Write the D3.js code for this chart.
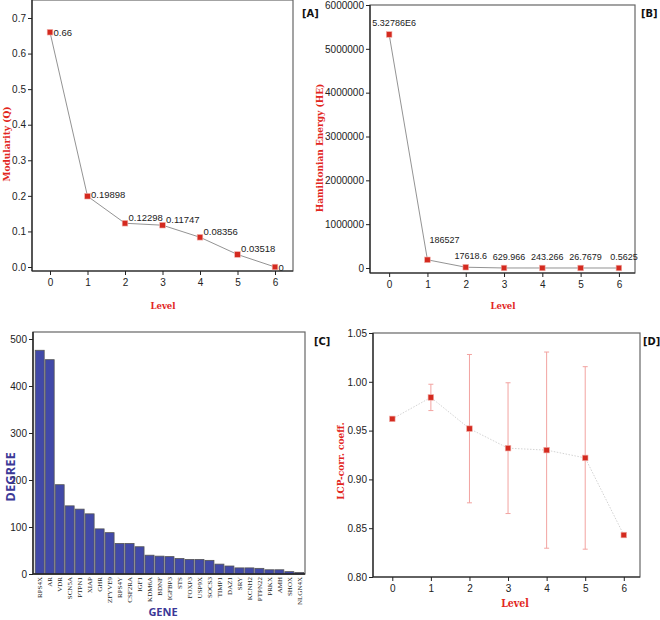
<!DOCTYPE html>
<html><head><meta charset="utf-8">
<script src="https://cdn.jsdelivr.net/npm/d3@7/dist/d3.min.js"></script>
<style>
body{margin:0;background:#fff;}
svg{display:block;}
.tick text{font-family:"Liberation Sans Narrow","Arial Narrow","Liberation Sans",sans-serif;font-size:10px;fill:#222;}
.domain{stroke:#222;}
.tick line{stroke:#222;}
</style>
</head><body>
<svg id="c" width="660" height="620"></svg>
<script>
const levels = [0,1,2,3,4,5,6];
const modularity = [0.66,0.19898,0.12298,0.11747,0.08356,0.03518,0];
const modLabels = ["0.66","0.19898","0.12298","0.11747","0.08356","0.03518","0"];
const hamiltonian = [5327860,186527,17618.6,629.966,243.266,26.7679,0.5625];
const hamLabels = ["5.32786E6","186527","17618.6","629.966","243.266","26.7679","0.5625"];
const genes = ["RPS4X","AR","VDR","SCN5A","PTPN1","XIAP","GHR","ZFYVE9","RPS4Y","CSF2RA","IGF1","KDM6A","BDNF","IGFBP3","STS","FOXP3","USP9X","SOCS3","TIMP1","DAZ1","SRY","KCNH2","PTPN22","PRKX","AMH","SHOX","NLGN4X"];
const degree = [476,456,190,145,138,128,96,88,65,65,58,40,38,37,33,31,31,29,21,17,13,13,12,9,9,5,3];
const lcpMean = [0.962,0.984,0.952,0.932,0.930,0.922,0.843];
const lcpErr = [0,0.0135,0.076,0.067,0.1005,0.0935,0];
const modTicks = [0,0.1,0.2,0.3,0.4,0.5,0.6,0.7];
const hamTicks = [0,1000000,2000000,3000000,4000000,5000000,6000000];
const degTicks = [0,100,200,300,400,500];
const lcpTicks = [0.80,0.85,0.90,0.95,1.00,1.05];

const svg = d3.select("#c");
const RED = "#e2261d";
const MARK = "#d42a1f";
const BLUE = "#3b3897";
const titleFont = '"DejaVu Serif Condensed","DejaVu Serif",serif';
const numFont = '"Liberation Sans Narrow","Arial Narrow","Liberation Sans",sans-serif';

function frame(g, x0, y0, x1, y1){
  g.append("rect").attr("x",x0).attr("y",y0).attr("width",x1-x0).attr("height",y1-y0)
   .attr("fill","none").attr("stroke","#666").attr("stroke-width",1.2);
}
function label(g, txt, x, y){
  g.append("text").attr("x",x).attr("y",y).text(txt)
   .attr("font-family",'"DejaVu Sans Condensed","Liberation Sans Narrow",sans-serif')
   .attr("font-weight","bold").attr("font-size",11).attr("fill","#111");
}
function redTitle(g, txt, x, y, rot, size){
  const t = g.append("text").text(txt).attr("text-anchor","middle")
   .attr("font-family",titleFont).attr("font-weight","bold")
   .attr("font-size",size||10).attr("fill",RED);
  if(rot) t.attr("transform",`translate(${x},${y}) rotate(-90)`);
  else t.attr("x",x).attr("y",y);
  return t;
}
function axes(g, x, y, x0,y0,x1,y1, yt, yfmt){
  frame(g,x0,y0,x1,y1);
  g.append("g").attr("transform",`translate(0,${y1})`)
   .call(d3.axisBottom(x).tickValues(levels).tickSize(4).tickPadding(4).tickFormat(d3.format("d")))
   .call(a=>a.select(".domain").remove());
  g.append("line").attr("x1",x0).attr("x2",x1).attr("y1",y1).attr("y2",y1).attr("stroke","#222").attr("stroke-width",1.2);
  g.append("g").attr("transform",`translate(${x0},0)`)
   .call(d3.axisLeft(y).tickValues(yt).tickSize(4).tickPadding(2).tickFormat(yfmt))
   .call(a=>a.select(".domain").remove());
  g.append("line").attr("x1",x0).attr("x2",x0).attr("y1",y0).attr("y2",y1).attr("stroke","#222").attr("stroke-width",1.2);
}
function markers(g, pts){
  g.selectAll(null).data(pts).enter().append("rect")
   .attr("x",d=>d[0]-2.8).attr("y",d=>d[1]-2.8).attr("width",5.6).attr("height",5.6)
   .attr("fill",MARK).attr("stroke","#f1b0aa").attr("stroke-width",0.6);
}

// ---- Panel A ----
{
  const g = svg.append("g");
  const x = d3.scaleLinear().domain([-0.48,6.48]).range([32,293]);
  const y = d3.scaleLinear().domain([0,0.7]).range([267,18]);
  axes(g,x,y,32,0,293,271,modTicks,d3.format(".1f"));
  const pts = levels.map((l,i)=>[x(l),y(modularity[i])]);
  g.append("path").attr("d",d3.line()(pts)).attr("fill","none").attr("stroke","#777").attr("stroke-width",0.8);
  markers(g,pts);
  g.selectAll(null).data(pts).enter().append("text")
   .attr("x",d=>d[0]+3.5).attr("y",(d,i)=>d[1]+3.5-((i===0||i===6)?0:(i===1?2:6)))
   .text((d,i)=>modLabels[i])
   .attr("font-family",numFont).attr("font-size",9.5).attr("fill","#222");
  redTitle(g,"Modularity (Q)",9.5,144,true,10);
  redTitle(g,"Level",163,309,false,9.5);
  label(g,"[A]",302,17);
}
// ---- Panel B ----
{
  const g = svg.append("g");
  const x = d3.scaleLinear().domain([-0.5,6.42]).range([370,635]);
  const y = d3.scaleLinear().domain([0,6000000]).range([268,5]);
  axes(g,x,y,370,5,635,273,hamTicks,d3.format("d"));
  const pts = levels.map((l,i)=>[x(l),y(hamiltonian[i])]);
  g.append("path").attr("d",d3.line()(pts)).attr("fill","none").attr("stroke","#777").attr("stroke-width",0.8);
  markers(g,pts);
  g.selectAll(null).data(pts).enter().append("text")
   .attr("x",(d,i)=>i===1?d[0]+2:d[0]+5).attr("y",(d,i)=>i===1?d[1]-17:d[1]-8)
   .attr("text-anchor",(d,i)=>i===1?"start":"middle")
   .text((d,i)=>hamLabels[i])
   .attr("font-family",numFont).attr("font-size",9).attr("fill","#222");
  redTitle(g,"Hamiltonian Energy (HE)",323,148,true,10);
  redTitle(g,"Level",503,309,false,9.5);
  label(g,"[B]",641,17);
}
// ---- Panel C ----
{
  const g = svg.append("g");
  const x = d3.scaleBand().domain(genes).range([35,304]).paddingInner(0.1).paddingOuter(0.02);
  const y = d3.scaleLinear().domain([0,500]).range([574,339]);
  frame(g,33,332,305,574);
  g.selectAll(null).data(genes).enter().append("rect")
   .attr("x",d=>x(d)).attr("width",x.bandwidth())
   .attr("y",(d,i)=>y(degree[i])).attr("height",(d,i)=>574-y(degree[i]))
   .attr("fill","#4149a8").attr("stroke","#555").attr("stroke-width",0.8);
  g.append("g").attr("transform","translate(33,0)")
   .call(d3.axisLeft(y).tickValues(degTicks).tickSize(4).tickPadding(2).tickFormat(d3.format("d")))
   .call(a=>a.select(".domain").remove());
  g.append("line").attr("x1",33).attr("x2",33).attr("y1",332).attr("y2",574).attr("stroke","#222").attr("stroke-width",1.4);
  g.append("line").attr("x1",33).attr("x2",305).attr("y1",574).attr("y2",574).attr("stroke","#222").attr("stroke-width",1.4);
  g.selectAll(null).data(genes).enter().append("text")
   .attr("transform",d=>`translate(${x(d)+x.bandwidth()/2+2.5},577) rotate(-90)`)
   .attr("text-anchor","end").text(d=>d)
   .attr("font-family",'"Liberation Serif","Times New Roman",serif').attr("font-size",7).attr("fill","#222");
  g.append("text").attr("transform","translate(14.5,477) rotate(-90)").attr("text-anchor","middle")
   .text("DEGREE").attr("font-family",'"Open Sans","Noto Sans",sans-serif').attr("font-weight","bold")
   .attr("font-size",13).attr("fill",BLUE);
  g.append("text").attr("x",163).attr("y",616).attr("text-anchor","middle")
   .text("GENE").attr("font-family",'"Open Sans","Noto Sans",sans-serif').attr("font-weight","bold")
   .attr("font-size",11).attr("fill",BLUE);
  label(g,"[C]",314,345);
}
// ---- Panel D ----
{
  const g = svg.append("g");
  const x = d3.scaleLinear().domain([-0.5,6.42]).range([373,640]);
  const y = d3.scaleLinear().domain([0.80,1.05]).range([577,333]);
  axes(g,x,y,373,333,640,577,lcpTicks,d3.format(".2f"));
  const pts = levels.map((l,i)=>[x(l),y(lcpMean[i])]);
  g.append("path").attr("d",d3.line()(pts)).attr("fill","none").attr("stroke","#c8c8c8").attr("stroke-width",0.8).attr("stroke-dasharray","1.5,1.5");
  const eb = g.append("g").attr("stroke","#f2a3a0").attr("stroke-width",1);
  levels.forEach((l,i)=>{
    if(lcpErr[i]<=0) return;
    const cx = x(l), yt = y(lcpMean[i]+lcpErr[i]), yb = y(lcpMean[i]-lcpErr[i]);
    eb.append("line").attr("x1",cx).attr("x2",cx).attr("y1",yt).attr("y2",yb);
    eb.append("line").attr("x1",cx-2.5).attr("x2",cx+2.5).attr("y1",yt).attr("y2",yt);
    eb.append("line").attr("x1",cx-2.5).attr("x2",cx+2.5).attr("y1",yb).attr("y2",yb);
  });
  markers(g,pts);
  redTitle(g,"LCP-corr. coeff.",344,461,true,10);
  redTitle(g,"Level",515,607,false,10.5);
  label(g,"[D]",643,345);
}
</script>
</body></html>
